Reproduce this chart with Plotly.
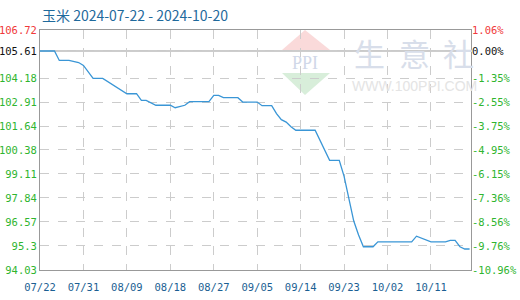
import plotly.graph_objects as go

# ---- data ----
dates = [
    "2024-07-22", "2024-07-25", "2024-07-26", "2024-07-28", "2024-07-30", "2024-07-31",
    "2024-08-02", "2024-08-04", "2024-08-09", "2024-08-11", "2024-08-12", "2024-08-13",
    "2024-08-15", "2024-08-18", "2024-08-19", "2024-08-21", "2024-08-22", "2024-08-26",
    "2024-08-27", "2024-08-28", "2024-08-29", "2024-09-01", "2024-09-02", "2024-09-05",
    "2024-09-06", "2024-09-08", "2024-09-09", "2024-09-10", "2024-09-11", "2024-09-12",
    "2024-09-13", "2024-09-17", "2024-09-20", "2024-09-22", "2024-09-23", "2024-09-24",
    "2024-09-25", "2024-09-26", "2024-09-27", "2024-09-29", "2024-09-30", "2024-10-07",
    "2024-10-08", "2024-10-11", "2024-10-14", "2024-10-15", "2024-10-16", "2024-10-17",
    "2024-10-18", "2024-10-19",
]
prices = [
    105.61, 105.61, 105.11, 105.11, 105.00, 104.85,
    104.16, 104.16, 103.35, 103.35, 103.00, 103.00,
    102.74, 102.74, 102.61, 102.74, 102.93, 102.93,
    103.26, 103.26, 103.14, 103.14, 102.91, 102.91,
    102.72, 102.72, 102.30, 101.98, 101.85, 101.60,
    101.42, 101.42, 99.83, 99.83, 98.98, 97.88,
    96.62, 95.88, 95.26, 95.26, 95.52, 95.52,
    95.82, 95.52, 95.52, 95.60, 95.60, 95.26,
    95.14, 95.14,
]
base_price = 105.61

y_tick_vals = [94.03, 95.3, 96.57, 97.84, 99.11, 100.38, 101.64, 102.91, 104.18, 105.61, 106.72]
y_tick_text = ["94.03", "95.3", "96.57", "97.84", "99.11", "100.38", "101.64", "102.91",
               "104.18", "105.61", "106.72"]
pct_tick_text = ["-10.96%", "-9.76%", "-8.56%", "-7.36%", "-6.15%", "-4.95%", "-3.75%",
                 "-2.55%", "-1.35%", "0.00%", "1.06%"]
x_tick_dates = ["2024-07-22", "2024-07-31", "2024-08-09", "2024-08-18", "2024-08-27",
                "2024-09-05", "2024-09-14", "2024-09-23", "2024-10-02", "2024-10-11"]
x_tick_text = ["07/22", "07/31", "08/09", "08/18", "08/27", "09/05", "09/14", "09/23",
               "10/02", "10/11"]
title_text = "玉米 2024-07-22 - 2024-10-20"

# ---- styling ----
GREEN = "#2fb52f"
RED = "#f03a3a"
BLACK = "#111111"
BLUE_TXT = "#1b5f93"
LINE = "#3a96d6"
GRID = "#cccccc"
AXIS = "#999999"
TICKFONT = "DejaVu Sans Mono"


def colored(texts, vals):
    out = []
    top = max(vals)
    for t, v in zip(texts, vals):
        if v == top:
            c = RED
        elif v == base_price:
            c = BLACK
        else:
            c = GREEN
        out.append(f'<span style="color:{c}">{t}</span>')
    return out


W, H = 520, 300
L, R, T, B = 40, 49, 30, 30
pw, ph = W - L - R, H - T - B


def px(x):
    return (x - L) / pw


def py(y):
    return (H - B - y) / ph


fig = go.Figure()
fig.add_trace(go.Scatter(x=dates, y=prices, mode="lines",
                         line=dict(color=LINE, width=1.3), hoverinfo="skip",
                         showlegend=False))
fig.add_trace(go.Scatter(x=dates, y=prices, mode="lines", yaxis="y2",
                         line=dict(color=LINE, width=0), opacity=0,
                         hoverinfo="skip", showlegend=False))

shapes = [
    # watermark logo
    dict(type="path", xref="paper", yref="paper", layer="below",
         path=f"M {px(305)} {py(30)} L {px(330)} {py(50)} L {px(282)} {py(50)} Z",
         fillcolor="rgb(250,218,218)", line=dict(width=0)),
    dict(type="path", xref="paper", yref="paper", layer="below",
         path=f"M {px(282)} {py(73)} L {px(330)} {py(73)} L {px(305)} {py(95)} Z",
         fillcolor="rgb(216,238,218)", line=dict(width=0)),
    # base line
    dict(type="line", xref="paper", x0=0, x1=1, yref="y", y0=base_price, y1=base_price,
         line=dict(color=AXIS, width=1), layer="below"),
]

annotations = [
    dict(text="PPI", xref="paper", yref="paper", x=px(305), y=py(63.5),
         showarrow=False, font=dict(family="Liberation Serif", size=18, color="rgb(208,216,232)"),
         xanchor="center", yanchor="middle"),
    dict(text="WWW.100PPI.COM", xref="paper", yref="paper", x=px(414), y=py(86),
         showarrow=False, font=dict(family="Liberation Sans", size=14, color="rgb(228,228,228)"),
         xanchor="center", yanchor="middle"),
]
for ch, cx in zip("生意社", [369, 414, 458]):
    annotations.append(dict(text=ch, xref="paper", yref="paper", x=px(cx), y=py(52.5),
                            showarrow=False,
                            font=dict(family="Noto Sans CJK SC", size=31, color="rgb(216,222,234)"),
                            xanchor="center", yanchor="middle"))
annotations.append(dict(text=title_text, xref="paper", yref="paper", x=0, y=py(15),
                        showarrow=False, xanchor="left", yanchor="middle",
                        font=dict(family="Noto Sans CJK SC", size=14, color="#1f6a9c")))

fig.update_layout(
    width=W, height=H,
    margin=dict(l=L, r=R, t=T, b=B, autoexpand=False),
    paper_bgcolor="white", plot_bgcolor="white",
    shapes=shapes, annotations=annotations,
    xaxis=dict(
        type="date", range=["2024-07-22", "2024-10-19 07:00"],
        tickvals=x_tick_dates, ticktext=x_tick_text,
        tickfont=dict(family=TICKFONT, size=10.5, color=BLUE_TXT),
        showgrid=True, gridcolor=GRID, griddash="dash", gridwidth=1,
        showline=True, linecolor=AXIS, linewidth=1, mirror=True,
        ticks="", zeroline=False, ticklabelstandoff=7, automargin=False,
    ),
    yaxis=dict(
        range=[94.03, 106.72], tickvals=y_tick_vals,
        ticktext=colored(y_tick_text, y_tick_vals),
        tickfont=dict(family=TICKFONT, size=10.5, color=GREEN),
        showgrid=True, gridcolor=GRID, griddash="dash", gridwidth=1,
        showline=True, linecolor=AXIS, linewidth=1, mirror=True,
        ticks="", zeroline=False, ticklabelstandoff=0, automargin=False,
    ),
    yaxis2=dict(
        range=[94.03, 106.72], overlaying="y", side="right",
        tickvals=y_tick_vals, ticktext=colored(pct_tick_text, y_tick_vals),
        tickfont=dict(family=TICKFONT, size=10.5, color=GREEN),
        showgrid=False, showline=False, ticks="", zeroline=False,
        ticklabelstandoff=0, automargin=False,
    ),
)

fig.write_html("out.html")
